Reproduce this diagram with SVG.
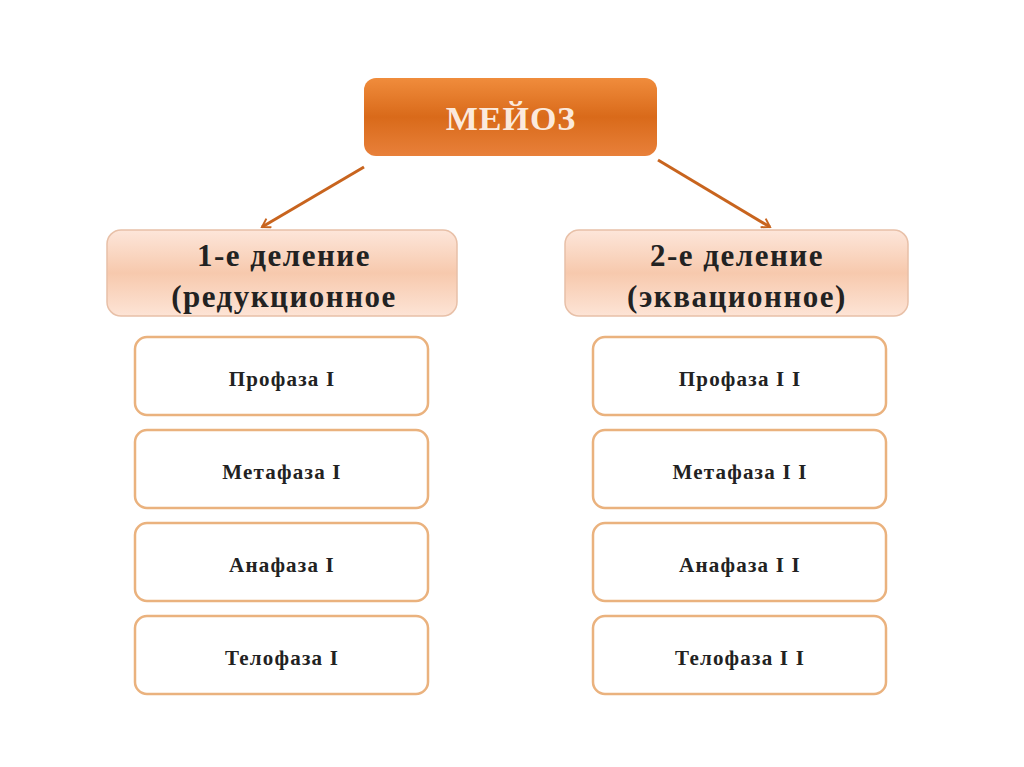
<svg xmlns="http://www.w3.org/2000/svg" width="1024" height="767" viewBox="0 0 1024 767">
<defs>
<linearGradient id="og" x1="0" y1="0" x2="0" y2="1"><stop offset="0" stop-color="#f08c3c"/><stop offset="0.5" stop-color="#d96a1a"/><stop offset="1" stop-color="#e8803a"/></linearGradient>
<linearGradient id="pg" x1="0" y1="0" x2="0" y2="1"><stop offset="0" stop-color="#fde6da"/><stop offset="0.5" stop-color="#f7c9ad"/><stop offset="1" stop-color="#fde4d6"/></linearGradient>
<marker id="ah" markerWidth="12" markerHeight="12" refX="9" refY="6" orient="auto" markerUnits="userSpaceOnUse"><path d="M1,1 L9,6 L1,11" fill="none" stroke="#c8641e" stroke-width="2"/></marker>
</defs>
<style>
.ph{fill:#fff;stroke:#eab27e;stroke-width:2.5}
.div{fill:url(#pg);stroke:#e8c0a8;stroke-width:1.5}
.t{font-family:"Liberation Serif",serif;font-weight:bold;text-anchor:middle;fill:#222}
.p{font-size:21px;letter-spacing:1.2px}
.d{font-size:31px;letter-spacing:1.5px}
.c{stroke:#c8641e;stroke-width:3;fill:none}
</style>
<rect width="1024" height="767" fill="#fff"/>
<g id="root"><rect x="364" y="78" width="293" height="78" rx="12" fill="url(#og)"/><text class="t" x="511" y="130" font-size="34" style="fill:#fbe9dc;letter-spacing:1px">МЕЙОЗ</text></g>
<g id="d1"><rect class="div" x="107" y="230" width="350" height="86" rx="14"/><text class="t d" x="284" y="266">1-е деление</text><text class="t d" x="284" y="307">(редукционное</text></g>
<g id="d2"><rect class="div" x="565" y="230" width="343" height="86" rx="14"/><text class="t d" x="737" y="266">2-е деление</text><text class="t d" x="737" y="307">(эквационное)</text></g>
<g id="l1"><rect class="ph" x="135" y="337" width="293" height="78" rx="12"/><text class="t p" x="282" y="386">Профаза I</text></g>
<g id="l2"><rect class="ph" x="135" y="430" width="293" height="78" rx="12"/><text class="t p" x="282" y="479">Метафаза I</text></g>
<g id="l3"><rect class="ph" x="135" y="523" width="293" height="78" rx="12"/><text class="t p" x="282" y="572">Анафаза I</text></g>
<g id="l4"><rect class="ph" x="135" y="616" width="293" height="78" rx="12"/><text class="t p" x="282" y="665">Телофаза I</text></g>
<g id="r1"><rect class="ph" x="593" y="337" width="293" height="78" rx="12"/><text class="t p" x="740" y="386">Профаза I I</text></g>
<g id="r2"><rect class="ph" x="593" y="430" width="293" height="78" rx="12"/><text class="t p" x="740" y="479">Метафаза I I</text></g>
<g id="r3"><rect class="ph" x="593" y="523" width="293" height="78" rx="12"/><text class="t p" x="740" y="572">Анафаза I I</text></g>
<g id="r4"><rect class="ph" x="593" y="616" width="293" height="78" rx="12"/><text class="t p" x="740" y="665">Телофаза I I</text></g>
<g id="connectors"><line class="c" x1="364" y1="167" x2="262" y2="227" marker-end="url(#ah)"/><line class="c" x1="658" y1="160" x2="770" y2="227" marker-end="url(#ah)"/></g>
</svg>
